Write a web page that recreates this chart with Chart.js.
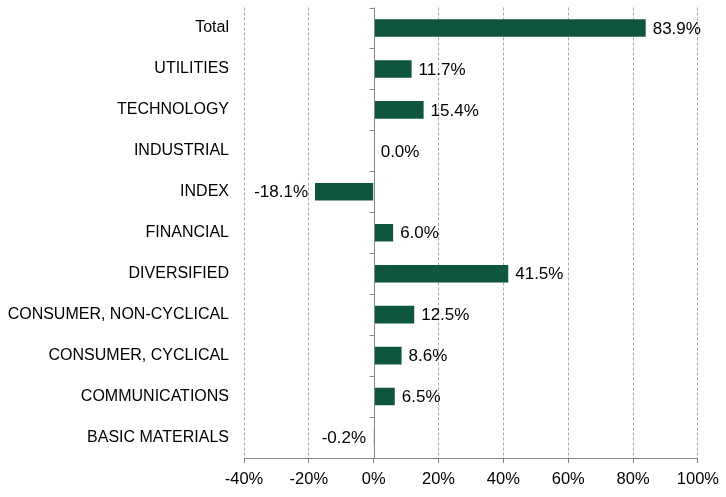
<!DOCTYPE html>
<html>
<head>
<meta charset="utf-8">
<script src="https://cdn.jsdelivr.net/npm/chart.js@4.4.1/dist/chart.umd.min.js"></script>
<style>
  body { margin: 0; background: #fff; }
  #wrap { width: 726px; height: 497px; position: relative; }
</style>
</head>
<body>
<div id="wrap"><canvas id="chart"></canvas></div>
<script>
// sectors, top to bottom
const sectors = ['Total', 'UTILITIES', 'TECHNOLOGY', 'INDUSTRIAL', 'INDEX', 'FINANCIAL',
  'DIVERSIFIED', 'CONSUMER, NON-CYCLICAL', 'CONSUMER, CYCLICAL', 'COMMUNICATIONS', 'BASIC MATERIALS'];
const returns = [83.9, 11.7, 15.4, 0.0, -18.1, 6.0, 41.5, 12.5, 8.6, 6.5, -0.2];
const xMin = -40;
const xMax = 100;
const xStep = 20;

const barColor = '#0F563E';
const gridColor = '#A6A6A6';
const axisColor = '#868686';
const fontFamily = 'Arial, "Liberation Sans", sans-serif';

// zero line with category ticks, like the value axis crossing
const zeroAxis = {
  id: 'zeroAxis',
  afterDatasetsDraw(chart) {
    const {ctx, chartArea, scales: {x, y}} = chart;
    const x0 = Math.round(x.getPixelForValue(0)) + 0.5;
    ctx.save();
    ctx.strokeStyle = axisColor;
    ctx.lineWidth = 1;
    ctx.beginPath();
    ctx.moveTo(x0, chartArea.top);
    ctx.lineTo(x0, chartArea.bottom);
    for (let i = 0; i <= sectors.length; i++) {
      const yy = Math.round(y.getPixelForValue(i - 0.5)) + 0.5;
      ctx.moveTo(x0 - 5, yy);
      ctx.lineTo(x0, yy);
    }
    ctx.stroke();
    ctx.restore();
  }
};

// value labels at the bar ends
const barLabels = {
  id: 'barLabels',
  afterDatasetsDraw(chart) {
    const {ctx} = chart;
    const meta = chart.getDatasetMeta(0);
    ctx.save();
    ctx.font = '17px ' + fontFamily;
    ctx.fillStyle = '#000';
    ctx.textBaseline = 'middle';
    meta.data.forEach((bar, i) => {
      const v = returns[i];
      const txt = v.toFixed(1) + '%';
      if (v < 0) {
        ctx.textAlign = 'right';
        ctx.fillText(txt, bar.x - 7, bar.y + 1);
      } else {
        ctx.textAlign = 'left';
        ctx.fillText(txt, bar.x + 7, bar.y + 1);
      }
    });
    ctx.restore();
  }
};

new Chart(document.getElementById('chart'), {
  type: 'bar',
  data: {
    labels: sectors,
    datasets: [{
      data: returns,
      backgroundColor: barColor,
      borderWidth: 0,
      barPercentage: 0.43,
      categoryPercentage: 1
    }]
  },
  options: {
    indexAxis: 'y',
    responsive: true,
    maintainAspectRatio: false,
    animation: false,
    layout: { padding: { top: 7.5, right: 27, left: 0, bottom: 0 } },
    plugins: {
      legend: { display: false },
      tooltip: { enabled: false }
    },
    scales: {
      x: {
        min: xMin,
        max: xMax,
        ticks: {
          stepSize: xStep,
          padding: 7,
          color: '#000',
          font: { size: 16.5, family: fontFamily },
          callback: (v) => v + '%'
        },
        grid: {
          color: (c) => (c.tick && c.tick.value === 0) ? 'rgba(0,0,0,0)' : gridColor,
          tickColor: axisColor,
          tickLength: 5
        },
        border: { display: true, color: axisColor, dash: [3, 2] },
        afterFit(scale) { scale.height = 39; }
      },
      y: {
        ticks: {
          padding: 15,
          color: '#000',
          font: { size: 16, family: fontFamily }
        },
        grid: { display: false, drawTicks: false },
        border: { display: false },
        afterFit(scale) {
          scale.width = 244;
          scale.paddingTop = 0;
          scale.paddingBottom = 0;
        }
      }
    }
  },
  plugins: [zeroAxis, barLabels]
});
</script>
</body>
</html>
